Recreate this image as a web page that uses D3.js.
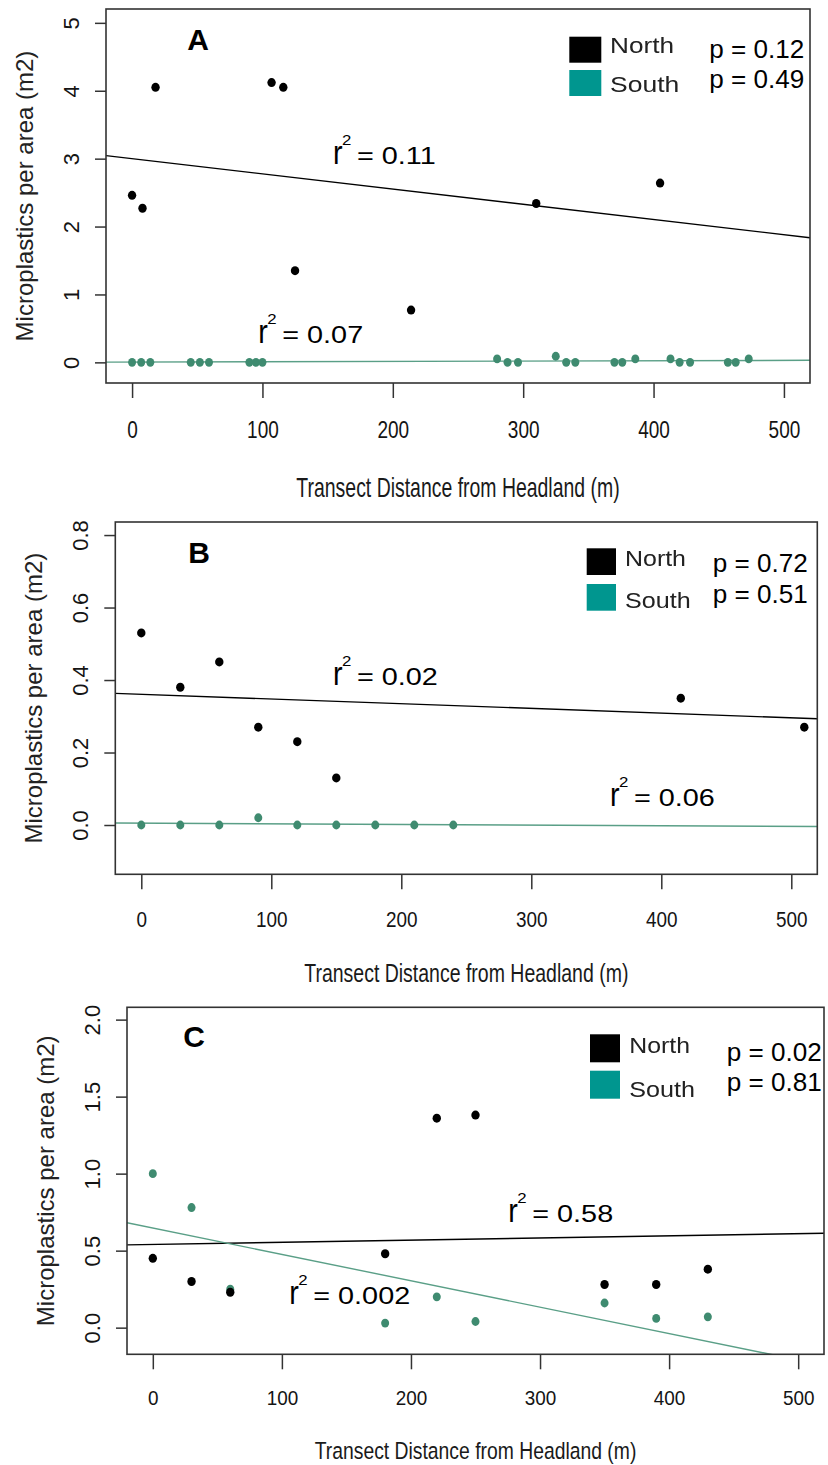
<!DOCTYPE html>
<html>
<head>
<meta charset="utf-8">
<script src="https://cdn.jsdelivr.net/npm/d3@7"></script>
<style>
  html, body { margin: 0; padding: 0; background: #fff; }
  svg { display: block; }
  text { font-family: "Liberation Sans", Arial, Helvetica, sans-serif; }
</style>
</head>
<body>
<svg id="chart" width="828" height="1465"></svg>
<script>
// ---- shared axis ticks ----
const distanceTicks = [0, 100, 200, 300, 400, 500];
const densityTicksA = [0, 1, 2, 3, 4, 5];
const densityTicksB = [0, 0.2, 0.4, 0.6, 0.8];
const densityTicksC = [0, 0.5, 1.0, 1.5, 2.0];

// ---- Panel A ----
const northDistA = [0, 8, 18, 107, 116, 125, 214, 310, 405];
const northDensA = [2.46, 2.27, 4.05, 4.12, 4.05, 1.35, 0.77, 2.34, 2.64];
const southDistA = [0, 7, 14, 45, 52, 59, 90, 95, 100, 280, 288, 296, 325, 333, 340, 370, 376, 386, 413, 420, 428, 457, 463, 473];
const southDensA = [0, 0, 0, 0, 0, 0, 0, 0, 0, 0.05, 0, 0, 0.09, 0, 0, 0, 0, 0.05, 0.05, 0, 0, 0, 0, 0.05];
const fitNorthA = [3.00, -0.00224];   // intercept, slope
const fitSouthA = [0.004, 0.00005];
const r2A = ["0.11", "0.07"];         // north, south
const pA = ["0.12", "0.49"];

// ---- Panel B ----
const northDistB = [0, 30, 60, 90, 120, 150, 415, 510];
const northDensB = [0.53, 0.38, 0.45, 0.27, 0.23, 0.13, 0.35, 0.27];
const southDistB = [0, 30, 60, 90, 120, 150, 180, 210, 240];
const southDensB = [0, 0, 0, 0.02, 0, 0, 0, 0, 0];
const fitNorthB = [0.3607, -0.00013];
const fitSouthB = [0.005, -0.0000175];
const r2B = ["0.02", "0.06"];
const pB = ["0.72", "0.51"];

// ---- Panel C ----
const northDistC = [0, 30, 60, 180, 220, 250, 350, 390, 430];
const northDensC = [0.45, 0.30, 0.23, 0.48, 1.36, 1.38, 0.28, 0.28, 0.38];
const southDistC = [0, 30, 60, 180, 220, 250, 350, 390, 430];
const southDensC = [1.00, 0.78, 0.25, 0.03, 0.20, 0.04, 0.16, 0.06, 0.07];
const fitNorthC = [0.540, 0.000141];
const fitSouthC = [0.647, -0.001713];
const r2C = ["0.58", "0.002"];
const pC = ["0.02", "0.81"];

const seriesNames = ["North", "South"];

// ---- styling ----
const COL_NORTH = "#000000";
const COL_SOUTH_PT = "#3f8b70";
const COL_SOUTH_LINE = "#5a9f87";
const COL_SOUTH_KEY = "#00968f";
const COL_AXIS = "#333333";
const COL_TEXT = "#141414";

const zip = (xs, ys) => xs.map((d, i) => ({ x: d, y: ys[i] }));

const panels = [
  {
    id: "A", rect: [106, 9, 810, 383], xDom: [-20, 520], yDom: [-0.304, 5.204],
    yTicks: densityTicksA, yFmt: d3.format("d"),
    north: zip(northDistA, northDensA), south: zip(southDistA, southDensA),
    fits: [fitNorthA, fitSouthA], r2: r2A, p: pA,
    tickLab: { size: 23.3, sx: 0.816, dy: 55.3 },
    title: { size: 27, sx: 0.72, dy: 113.7 },
    letter: [187.3, 50],
    r2Pos: [[333, 164], [258.3, 342.7]],
    key: { x: 569.3, w: 32, h: 26, ys: [36.7, 70], tx: 610, tys: [53.3, 91.7], tw: [64, 69.3] },
    pPos: { x: 709.3, ys: [58.3, 88.3] }
  },
  {
    id: "B", rect: [115.3, 522, 817.3, 874.3], xDom: [-20, 520], yDom: [-0.136, 0.836],
    yTicks: densityTicksB, yFmt: d3.format(".1f"),
    north: zip(northDistB, northDensB), south: zip(southDistB, southDensB),
    fits: [fitNorthB, fitSouthB], r2: r2B, p: pB,
    tickLab: { size: 22, sx: 0.86, dy: 53 },
    title: { size: 25, sx: 0.78, dy: 108 },
    letter: [188.3, 563.3],
    r2Pos: [[333, 685], [610, 806]],
    key: { x: 586.7, w: 29.3, h: 26.7, ys: [548.3, 584], tx: 625, tys: [566, 608], tw: [61, 65.7] },
    pPos: { x: 712.7, ys: [571.7, 602.7] }
  },
  {
    id: "C", rect: [127, 1007.3, 824, 1354.3], xDom: [-20, 520], yDom: [-0.173, 2.08],
    yTicks: densityTicksC, yFmt: d3.format(".1f"),
    north: zip(northDistC, northDensC), south: zip(southDistC, southDensC),
    fits: [fitNorthC, fitSouthC], r2: r2C, p: pC,
    tickLab: { size: 21, sx: 0.90, dy: 50.7 },
    title: { size: 23.3, sx: 0.83, dy: 105 },
    letter: [183.3, 1047.3],
    r2Pos: [[508.3, 1221.7], [289.3, 1304]],
    key: { x: 590, w: 30, h: 28, ys: [1034.3, 1070.7], tx: 629.3, tys: [1052.7, 1096.7], tw: [60.7, 65.7] },
    pPos: { x: 726.7, ys: [1060.7, 1090.7] }
  }
];

const svg = d3.select("#chart");
svg.append("rect").attr("width", 828).attr("height", 1465).attr("fill", "#fff");

const defs = svg.append("defs");
defs.append("filter").attr("id", "soft").attr("x", "-10%").attr("y", "-20%")
  .attr("width", "120%").attr("height", "140%")
  .append("feGaussianBlur").attr("stdDeviation", 0.55);

// draw a text node and stretch it horizontally to a given width
function fitText(parent, str, x, y, size, width, attrs = {}) {
  const t = parent.append("text").attr("font-size", size).text(str);
  Object.entries(attrs).forEach(([k, v]) => t.attr(k, v));
  const natural = t.node().getComputedTextLength();
  const k = natural > 0 ? width / natural : 1;
  t.attr("transform", `translate(${x},${y}) scale(${k},1)`);
  return t;
}

panels.forEach(cfg => {
  const [L, T, R, B] = cfg.rect;
  const x = d3.scaleLinear().domain(cfg.xDom).range([L, R]);
  const y = d3.scaleLinear().domain(cfg.yDom).range([B, T]);
  const g = svg.append("g").attr("class", "panel-" + cfg.id);

  const clipId = "clip-" + cfg.id;
  defs.append("clipPath").attr("id", clipId)
    .append("rect").attr("x", L).attr("y", T).attr("width", R - L).attr("height", B - T);

  // regression lines across the full plot width
  const lineCols = [COL_NORTH, COL_SOUTH_LINE];
  cfg.fits.forEach(([a, b], i) => {
    const x0 = cfg.xDom[0], x1 = cfg.xDom[1];
    g.append("line")
      .attr("clip-path", `url(#${clipId})`)
      .attr("x1", x(x0)).attr("y1", y(a + b * x0))
      .attr("x2", x(x1)).attr("y2", y(a + b * x1))
      .attr("stroke", lineCols[i]).attr("stroke-width", 1.4);
  });

  // observations
  g.append("g").selectAll("ellipse").data(cfg.south).join("ellipse")
    .attr("cx", d => x(d.x)).attr("cy", d => y(d.y))
    .attr("rx", 4).attr("ry", 4.4).attr("fill", COL_SOUTH_PT);
  g.append("g").selectAll("ellipse").data(cfg.north).join("ellipse")
    .attr("cx", d => x(d.x)).attr("cy", d => y(d.y))
    .attr("rx", 4.2).attr("ry", 4.5).attr("fill", COL_NORTH);

  // frame
  g.append("rect").attr("x", L).attr("y", T).attr("width", R - L).attr("height", B - T)
    .attr("fill", "none").attr("stroke", COL_AXIS).attr("stroke-width", 1.6);

  // x axis
  const xa = g.append("g").attr("transform", `translate(0,${B})`)
    .call(d3.axisBottom(x).tickValues(distanceTicks).tickSize(15).tickSizeOuter(0).tickFormat(d3.format("d")));
  xa.select(".domain").remove();
  xa.selectAll(".tick line").attr("stroke", COL_AXIS).attr("stroke-width", 1.5);
  xa.selectAll(".tick text")
    .attr("y", 0).attr("dy", null)
    .attr("font-size", cfg.tickLab.size).attr("fill", COL_TEXT)
    .attr("transform", `translate(0,${cfg.tickLab.dy}) scale(${cfg.tickLab.sx},1)`);

  // y axis
  const ya = g.append("g").attr("transform", `translate(${L},0)`)
    .call(d3.axisLeft(y).tickValues(cfg.yTicks).tickSize(11).tickSizeOuter(0).tickFormat(cfg.yFmt));
  ya.select(".domain").remove();
  ya.selectAll(".tick line").attr("stroke", COL_AXIS).attr("stroke-width", 1.5);
  ya.selectAll(".tick text")
    .attr("x", 0).attr("y", 0).attr("dy", null)
    .attr("text-anchor", "middle")
    .attr("font-size", 22).attr("fill", COL_TEXT)
    .attr("transform", "translate(-27,0) rotate(-90)");

  // axis titles
  g.append("text")
    .attr("transform", `translate(${L - 73.5},${(T + B) / 2}) rotate(-90)`)
    .attr("text-anchor", "middle").attr("font-size", 24).attr("fill", "#222")
    .text("Microplastics per area (m2)");
  g.append("text")
    .attr("transform", `translate(${(L + R) / 2},${B + cfg.title.dy}) scale(${cfg.title.sx},1)`)
    .attr("text-anchor", "middle").attr("font-size", cfg.title.size).attr("fill", "#1a1a1a")
    .text("Transect Distance from Headland (m)");

  // panel letter
  g.append("text").attr("x", cfg.letter[0]).attr("y", cfg.letter[1])
    .attr("font-size", 30).attr("font-weight", "bold").attr("fill", "#000")
    .text(cfg.id);

  // r² labels
  cfg.r2.forEach((val, i) => {
    const [rx, ry] = cfg.r2Pos[i];
    const lab = g.append("g").attr("transform", `translate(${rx},${ry})`).attr("fill", "#000");
    lab.append("text").attr("font-size", 24).attr("transform", "scale(1.2,1.4)").text("r");
    lab.append("text").attr("font-size", 14).attr("transform", "translate(9,-19) scale(1.2,1)").text("2");
    lab.append("text").attr("font-size", 24).attr("transform", "translate(24,0) scale(1.2,1)").text("= " + val);
  });

  // legend keys
  const k = cfg.key;
  const keyCols = [COL_NORTH, COL_SOUTH_KEY];
  seriesNames.forEach((name, i) => {
    g.append("rect").attr("x", k.x).attr("y", k.ys[i]).attr("width", k.w).attr("height", k.h)
      .attr("fill", keyCols[i]);
    fitText(g, name, k.tx, k.tys[i], 22.5, k.tw[i], { fill: "#202020", filter: "url(#soft)" });
  });

  // p values
  cfg.p.forEach((val, i) => {
    fitText(g, "p = " + val, cfg.pPos.x, cfg.pPos.ys[i], 25.5, 95, { fill: "#000" });
  });
});
</script>
</body>
</html>
